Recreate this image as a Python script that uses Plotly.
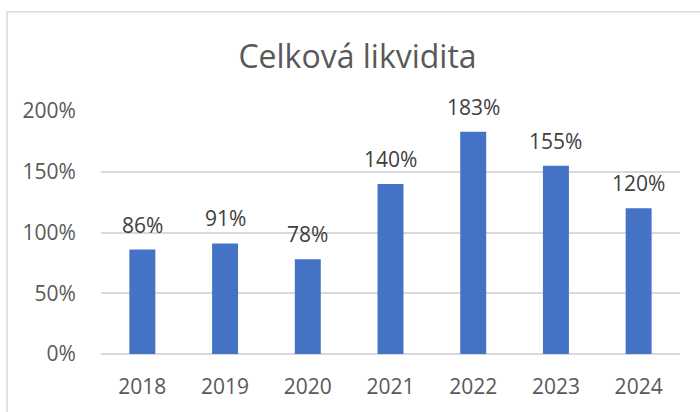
import plotly.graph_objects as go

years = ["2018", "2019", "2020", "2021", "2022", "2023", "2024"]
liquidity = [86, 91, 78, 140, 183, 155, 120]
y_ticks = [0, 50, 100, 150, 200]
y_tick_labels = ["0%", "50%", "100%", "150%", "200%"]
title_text = "Celková likvidita"

FONT = "Open Sans"
W, H = 700, 412
ML, MR, MT, MB = 101, 20, 111, 56
pw = W - ML - MR
ph = H - MT - MB

fig = go.Figure()
fig.add_trace(go.Bar(
    x=years, y=liquidity,
    marker=dict(color="#4472c4", line=dict(width=0)),
    hoverinfo="skip",
))

annotations = []
for i, (yr, v) in enumerate(zip(years, liquidity)):
    annotations.append(dict(
        x=i, y=v, xref="x", yref="y", text=f"{v}%", showarrow=False,
        yshift=25, yanchor="middle",
        font=dict(family=FONT, size=21, color="#404040"),
    ))

# chart border (left and top visible)
bx = (7 - ML) / pw
by = (H - MB - 11) / ph
shapes = [
    dict(type="line", xref="paper", yref="paper", x0=bx, x1=bx, y0=-0.5, y1=by,
         line=dict(color="#d9d9d9", width=1.5)),
    dict(type="line", xref="paper", yref="paper", x0=bx, x1=1.2, y0=by, y1=by,
         line=dict(color="#d9d9d9", width=1.5)),
]

fig.update_layout(
    width=W, height=H,
    margin=dict(l=ML, r=MR, t=MT, b=MB),
    paper_bgcolor="white", plot_bgcolor="white",
    showlegend=False,
    bargap=0.686,
    title=dict(text=title_text, x=357.5 / W, xref="container", xanchor="center",
               y=1 - 57 / H, yref="container", yanchor="middle",
               font=dict(family=FONT, size=32, color="#595959")),
    xaxis=dict(
        type="category", showgrid=False, showline=False, zeroline=False,
        ticks="outside", ticklen=14, tickcolor="rgba(0,0,0,0)",
        tickfont=dict(family=FONT, size=21, color="#595959"),
    ),
    yaxis=dict(
        range=[0, 200], tickmode="array", tickvals=y_ticks, ticktext=y_tick_labels,
        showgrid=True, gridcolor="#d9d9d9", gridwidth=1.5,
        zeroline=True, zerolinecolor="#d9d9d9", zerolinewidth=1.5,
        showline=False, ticks="outside", ticklen=20, tickcolor="rgba(0,0,0,0)",
        tickfont=dict(family=FONT, size=21, color="#595959"),
    ),
    annotations=annotations,
    shapes=shapes,
)

fig.write_html("out.html", config={"displayModeBar": False},
               post_script="document.body.style.margin='0';document.body.style.overflow='hidden';")
